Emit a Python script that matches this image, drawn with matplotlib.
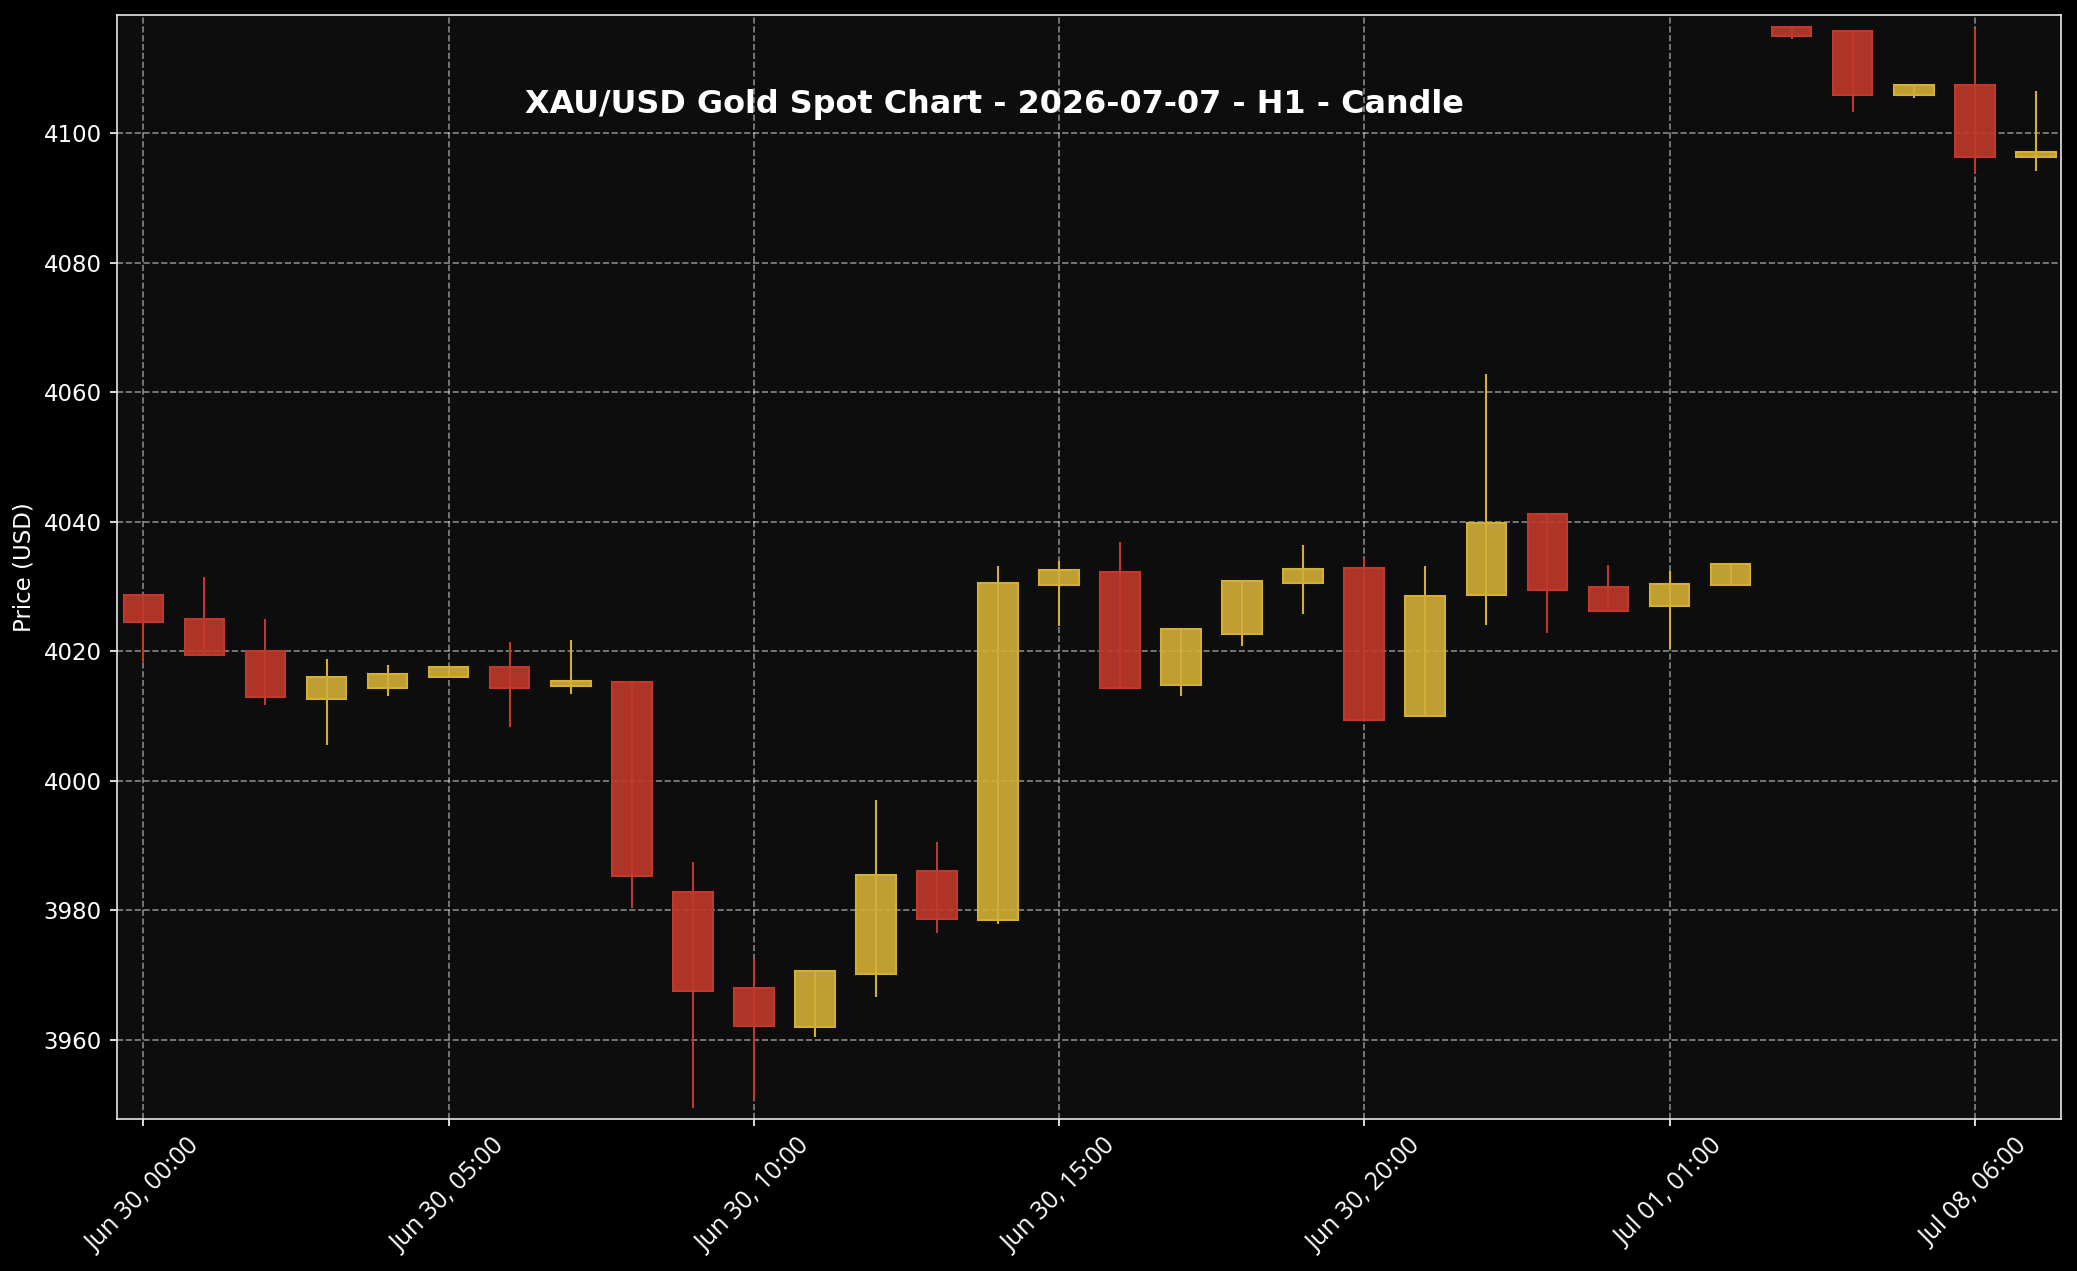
import matplotlib
matplotlib.use("Agg")
import matplotlib.pyplot as plt
from matplotlib.colors import to_rgba

# hourly candles (index based x axis, gaps in time are skipped)
times = ["Jun 30, 00:00", "Jun 30, 01:00", "Jun 30, 02:00", "Jun 30, 03:00",
         "Jun 30, 04:00", "Jun 30, 05:00", "Jun 30, 06:00", "Jun 30, 07:00",
         "Jun 30, 08:00", "Jun 30, 09:00", "Jun 30, 10:00", "Jun 30, 11:00",
         "Jun 30, 12:00", "Jun 30, 13:00", "Jun 30, 14:00", "Jun 30, 15:00",
         "Jun 30, 16:00", "Jun 30, 17:00", "Jun 30, 18:00", "Jun 30, 19:00",
         "Jun 30, 20:00", "Jun 30, 21:00", "Jun 30, 22:00", "Jun 30, 23:00",
         "Jul 01, 00:00", "Jul 01, 01:00", "Jul 01, 02:00", "Jul 08, 03:00",
         "Jul 08, 04:00", "Jul 08, 05:00", "Jul 08, 06:00", "Jul 08, 07:00"]
opens = [4028.75, 4025.0, 4020.1, 4012.7, 4014.3, 4016.1, 4017.6, 4014.6,
         4015.3, 3982.9, 3968.0, 3962.0, 3970.2, 3986.1, 3978.55, 4030.2,
         4032.2, 4014.8, 4022.7, 4030.6, 4032.9, 4010.0, 4028.7, 4041.2,
         4029.9, 4027.0, 4030.25, 4116.4, 4115.9, 4106.0, 4107.5, 4096.4]
highs = [4028.8, 4031.5, 4025.05, 4018.9, 4017.9, 4017.7, 4021.5, 4021.8,
         4015.5, 3987.4, 3972.5, 3970.8, 3997.0, 3990.5, 4033.2, 4033.9,
         4036.9, 4023.4, 4030.9, 4036.4, 4034.3, 4033.2, 4062.9, 4041.2,
         4033.4, 4032.4, 4033.7, 4116.6, 4115.9, 4107.7, 4116.2, 4106.6]
lows = [4018.3, 4019.3, 4011.8, 4005.6, 4013.05, 4016.0, 4008.3, 4013.4,
        3980.4, 3949.5, 3950.7, 3960.4, 3966.6, 3976.5, 3977.9, 4024.0,
        4014.2, 4013.1, 4020.85, 4025.8, 4009.3, 4010.0, 4024.1, 4022.9,
        4026.2, 4020.4, 4030.25, 4114.6, 4103.3, 4105.5, 4093.9, 4094.2]
closes = [4024.6, 4019.5, 4013.0, 4016.0, 4016.5, 4017.6, 4014.3, 4015.4,
          3985.3, 3967.5, 3962.1, 3970.7, 3985.5, 3978.7, 4030.5, 4032.6,
          4014.4, 4023.4, 4030.9, 4032.8, 4009.4, 4028.5, 4039.9, 4029.5,
          4026.3, 4030.4, 4033.5, 4115.0, 4105.9, 4107.5, 4096.3, 4097.1]

UP = "#D4AF37"
DOWN = "#C0392B"

fig = plt.figure(figsize=(2077 / 150, 1271 / 150), dpi=150, facecolor="black")
ax = fig.add_axes([0.0561, 0.1192, 0.9364, 0.869])
ax.set_facecolor("#0d0d0d")

xs = list(range(len(opens)))
cols = [UP if c >= o else DOWN for o, c in zip(opens, closes)]

# wicks
ax.vlines(xs, lows, highs, colors=cols, linewidth=1.0, zorder=2)
# bodies
heights = [c - o for o, c in zip(opens, closes)]
ax.bar(xs, heights, bottom=opens, width=0.65,
       color=[to_rgba(c, 0.9) for c in cols], edgecolor=cols,
       linewidth=1.0, zorder=3)

ax.set_xlim(-0.44, len(opens) - 1 + 0.42)
ax.set_ylim(3947.7, 4118.3)
ax.set_yticks(range(3960, 4101, 20))
tick_pos = xs[::5]
ax.set_xticks(tick_pos)
ax.set_xticklabels([times[i] for i in tick_pos], rotation=45, ha="center",
                   family="Open Sans", fontsize=12, color="white")
ax.tick_params(axis="y", colors="white", labelsize=11)
ax.tick_params(axis="x", colors="white")

ax.grid(True, color="white", alpha=0.5, linestyle="--", linewidth=0.8)
ax.set_axisbelow(True)
for s in ax.spines.values():
    s.set_color("#e6e6e6")

ax.set_ylabel("Price (USD)", color="white", fontsize=11)

fig.text(0.479, 0.918, "XAU/USD Gold Spot Chart - 2026-07-07 - H1 - Candle",
         color="white", fontsize=15.3, fontweight="bold", ha="center", va="center")

fig.savefig("out.png", dpi=150, facecolor="black")
